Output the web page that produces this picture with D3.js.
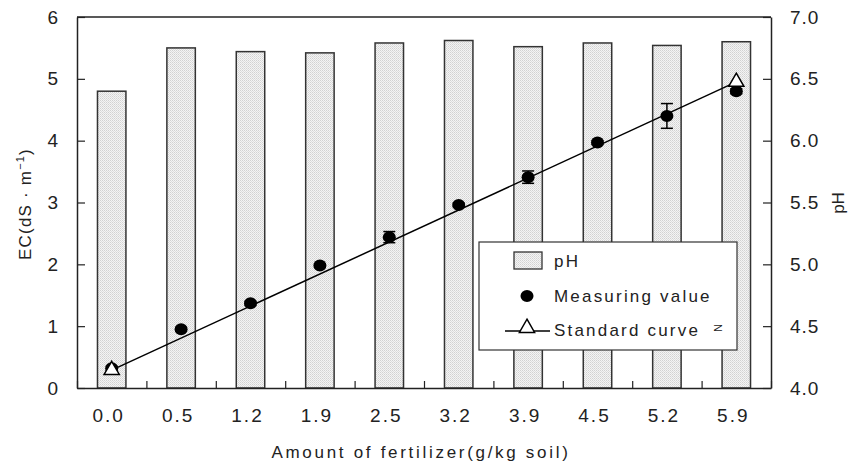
<!DOCTYPE html>
<html>
  <head>
      <meta charset="utf-8">
      <script src="https://cdnjs.cloudflare.com/ajax/libs/d3/7.8.5/d3.min.js"></script>
      <style>
        body { margin: 0; background: #fff; }
        text { font-family: "Liberation Sans", Arial, sans-serif; fill: #222; }
      </style>
  </head>
  <body>
    <div id="vis"></div>
    <script type="text/javascript">

        // fertilizer amounts (g/kg soil)
        const categories = ["0.0", "0.5", "1.2", "1.9", "2.5", "3.2", "3.9", "4.5", "5.2", "5.9"];
        // pH bars (right axis)
        const phValues = [6.40, 6.75, 6.72, 6.71, 6.79, 6.81, 6.76, 6.79, 6.77, 6.80];
        // measured EC (left axis) and its error
        const ecMeasured = [0.32, 0.95, 1.37, 1.98, 2.44, 2.96, 3.41, 3.97, 4.40, 4.80];
        const ecError = [0.03, 0.03, 0.03, 0.03, 0.09, 0.03, 0.10, 0.03, 0.20, 0.04];
        // standard curve, only the two ends are marked
        const stdCurveCats = ["0.0", "5.9"];
        const stdCurveValues = [0.29, 4.95];
        const leftTicks = [0, 1, 2, 3, 4, 5, 6];
        const rightTicks = [4.0, 4.5, 5.0, 5.5, 6.0, 6.5, 7.0];

        const W = 851, H = 465;
        const pLeft = 77, pRight = 771, pTop = 17, pBottom = 388;

        const svg = d3.select("#vis")
            .append("svg")
            .attr("width", W)
            .attr("height", H);

        // dotted fill for bars
        const defs = svg.append("defs");
        const pat = defs.append("pattern")
            .attr("id", "dots")
            .attr("patternUnits", "userSpaceOnUse")
            .attr("width", 2)
            .attr("height", 2);
        pat.append("rect").attr("width", 2).attr("height", 2).attr("fill", "#f4f4f4");
        pat.append("rect").attr("width", 1).attr("height", 1).attr("fill", "#d2d2d2");
        pat.append("rect").attr("x", 1).attr("y", 1).attr("width", 1).attr("height", 1).attr("fill", "#dedede");

        const x = d3.scaleBand().domain(categories).range([pLeft, pRight]);
        const xIdx = d3.scaleLinear().domain([0, categories.length]).range([pLeft, pRight]);
        const yL = d3.scaleLinear().domain([0, 6]).range([pBottom, pTop]);
        const yR = d3.scaleLinear().domain([4, 7]).range([pBottom, pTop]);

        const barW = x.bandwidth() * 0.41;

        // bars
        svg.append("g")
            .selectAll("rect")
            .data(phValues)
            .enter()
            .append("rect")
            .attr("x", (d, i) => x(categories[i]) + x.bandwidth() / 2 - barW / 2)
            .attr("y", d => yR(d))
            .attr("width", barW)
            .attr("height", d => pBottom - yR(d))
            .attr("fill", "url(#dots)")
            .attr("stroke", "#333")
            .attr("stroke-width", 1.5);

        // frame top
        svg.append("line")
            .attr("x1", pLeft).attr("x2", pRight)
            .attr("y1", pTop).attr("y2", pTop)
            .attr("stroke", "#222").attr("stroke-width", 1.3);

        // left axis
        const gl = svg.append("g")
            .attr("transform", `translate(${pLeft},0)`)
            .call(d3.axisLeft(yL).tickValues(leftTicks).tickSizeInner(-8).tickSizeOuter(0).tickPadding(19).tickFormat(d3.format("d")));
        gl.selectAll("text").style("font-size", "19px");

        // right axis
        const gr = svg.append("g")
            .attr("transform", `translate(${pRight},0)`)
            .call(d3.axisRight(yR).tickValues(rightTicks).tickSizeInner(-8).tickSizeOuter(0).tickPadding(19).tickFormat(d3.format(".1f")));
        gr.selectAll("text").style("font-size", "19px").style("letter-spacing", "1px");

        // bottom axis: ticks at boundaries, labels at centres
        svg.append("g")
            .attr("transform", `translate(0,${pBottom})`)
            .call(d3.axisBottom(xIdx).ticks(categories.length).tickSizeInner(-7).tickSizeOuter(0).tickFormat(""));
        const gb = svg.append("g")
            .attr("transform", `translate(0,${pBottom})`)
            .call(d3.axisBottom(x).tickSize(0).tickPadding(21));
        gb.select(".domain").remove();
        gb.selectAll("text").style("font-size", "19px").style("letter-spacing", "2px").attr("dx", -3);

        svg.selectAll(".domain").attr("stroke", "#222").attr("stroke-width", 1.5);
        svg.selectAll(".tick line").attr("stroke", "#222").attr("stroke-width", 1.2);

        // standard curve line
        svg.append("path")
            .datum(stdCurveValues)
            .attr("d", d3.line()
                .x((d, i) => x(stdCurveCats[i]) + x.bandwidth() / 2)
                .y(d => yL(d)))
            .attr("fill", "none")
            .attr("stroke", "#000")
            .attr("stroke-width", 1.5);

        // error bars
        const eb = svg.append("g").attr("stroke", "#000").attr("stroke-width", 1.5);
        ecMeasured.forEach((v, i) => {
            const cx = x(categories[i]) + x.bandwidth() / 2;
            const y1 = yL(v + ecError[i]), y2 = yL(v - ecError[i]);
            eb.append("line").attr("x1", cx).attr("x2", cx).attr("y1", y1).attr("y2", y2);
            eb.append("line").attr("x1", cx - 6).attr("x2", cx + 6).attr("y1", y1).attr("y2", y1);
            eb.append("line").attr("x1", cx - 6).attr("x2", cx + 6).attr("y1", y2).attr("y2", y2);
        });

        // measuring value dots
        svg.append("g")
            .selectAll("ellipse")
            .data(ecMeasured)
            .enter()
            .append("ellipse")
            .attr("cx", (d, i) => x(categories[i]) + x.bandwidth() / 2)
            .attr("cy", d => yL(d))
            .attr("rx", 6.5)
            .attr("ry", 6)
            .attr("fill", "#000");

        // standard curve triangles
        const tri = d3.symbol().type(d3.symbolTriangle).size(100);
        svg.append("g")
            .selectAll("path")
            .data(stdCurveValues)
            .enter()
            .append("path")
            .attr("d", tri)
            .attr("transform", (d, i) => `translate(${x(stdCurveCats[i]) + x.bandwidth() / 2},${yL(d)})`)
            .attr("fill", "#fff")
            .attr("stroke", "#000")
            .attr("stroke-width", 1.5);

        // axis titles
        svg.append("text")
            .attr("x", (pLeft + pRight) / 2 - 3)
            .attr("y", 458)
            .attr("text-anchor", "middle")
            .style("font-size", "17px")
            .style("letter-spacing", "2.7px")
            .text("Amount of fertilizer(g/kg soil)");

        const yt = svg.append("text")
            .attr("transform", "translate(31,204) rotate(-90)")
            .attr("text-anchor", "middle")
            .style("font-size", "17px")
            .style("letter-spacing", "1.2px");
        yt.append("tspan").text("EC(dS · m");
        yt.append("tspan").attr("dy", -7).style("font-size", "11px").text("−1");
        yt.append("tspan").attr("dy", 7).text(")");

        svg.append("text")
            .attr("transform", "translate(844,203) rotate(-90)")
            .attr("text-anchor", "middle")
            .style("font-size", "17px")
            .text("pH");

        // legend
        const lg = svg.append("g");
        lg.append("rect")
            .attr("x", 479).attr("y", 242)
            .attr("width", 258).attr("height", 108)
            .attr("fill", "#fff")
            .attr("stroke", "#333")
            .attr("stroke-width", 1.2);
        lg.append("rect")
            .attr("x", 514).attr("y", 252)
            .attr("width", 28).attr("height", 17)
            .attr("fill", "url(#dots)")
            .attr("stroke", "#333")
            .attr("stroke-width", 1.3);
        lg.append("ellipse")
            .attr("cx", 527).attr("cy", 296)
            .attr("rx", 6.5).attr("ry", 6)
            .attr("fill", "#000");
        lg.append("line")
            .attr("x1", 505).attr("x2", 550)
            .attr("y1", 331).attr("y2", 331)
            .attr("stroke", "#000").attr("stroke-width", 1.5);
        lg.append("path")
            .attr("d", tri)
            .attr("transform", "translate(527,328)")
            .attr("fill", "#fff")
            .attr("stroke", "#000")
            .attr("stroke-width", 1.5);
        const legendLabels = ["pH", "Measuring value", "Standard curve"];
        lg.selectAll("text.lab")
            .data(legendLabels)
            .enter()
            .append("text")
            .attr("class", "lab")
            .attr("x", 554)
            .attr("y", (d, i) => 267 + i * 34.5)
            .style("font-size", "17px")
            .style("letter-spacing", "2.2px")
            .text(d => d);
        lg.append("text")
            .attr("transform", "translate(714,328) rotate(90)")
            .attr("text-anchor", "middle")
            .style("font-size", "11px")
            .text("N");

    </script>
  </body>
</html>
